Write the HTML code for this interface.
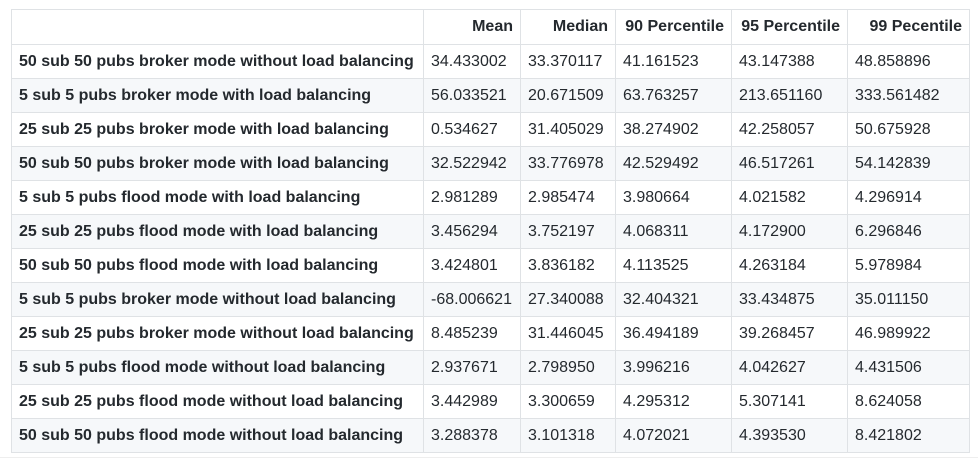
<!DOCTYPE html>
<html><head><meta charset="utf-8"><style>
body{margin:0;width:978px;height:465px;background:#fff;font-family:"Liberation Sans",Arial,sans-serif;color:#24292e;overflow:hidden;position:relative}
table{position:absolute;left:11px;top:9px;border-collapse:collapse;font-size:16px;table-layout:fixed;width:958px}
td,th{border:1px solid #dfe2e5;height:34px;padding:0 7px;white-space:nowrap;box-sizing:border-box;overflow:hidden}
th{text-align:right;font-weight:bold;height:35px}
td{text-align:left}
td:first-child{font-weight:bold}
tbody tr:nth-child(even){background:#f6f8fa}
.c0{width:412px}.c1{width:97px}.c2{width:95px}.c3{width:116px}.c4{width:116px}.c5{width:122px}
.foot{position:absolute;left:0;top:457px;width:978px;height:1px;background:#eee}
</style></head><body>
<table>
<thead><tr>
<th class="c0"></th>
<th class="c1">Mean</th>
<th class="c2">Median</th>
<th class="c3">90 Percentile</th>
<th class="c4">95 Percentile</th>
<th class="c5">99 Pecentile</th>
</tr></thead>
<tbody id="tb"></tbody>
</table>
<div class="foot"></div>
<script>
const rowLabels=["50 sub 50 pubs broker mode without load balancing","5 sub 5 pubs broker mode with load balancing","25 sub 25 pubs broker mode with load balancing","50 sub 50 pubs broker mode with load balancing","5 sub 5 pubs flood mode with load balancing","25 sub 25 pubs flood mode with load balancing","50 sub 50 pubs flood mode with load balancing","5 sub 5 pubs broker mode without load balancing","25 sub 25 pubs broker mode without load balancing","5 sub 5 pubs flood mode without load balancing","25 sub 25 pubs flood mode without load balancing","50 sub 50 pubs flood mode without load balancing"];
const mean=["34.433002","56.033521","0.534627","32.522942","2.981289","3.456294","3.424801","-68.006621","8.485239","2.937671","3.442989","3.288378"];
const median=["33.370117","20.671509","31.405029","33.776978","2.985474","3.752197","3.836182","27.340088","31.446045","2.798950","3.300659","3.101318"];
const p90=["41.161523","63.763257","38.274902","42.529492","3.980664","4.068311","4.113525","32.404321","36.494189","3.996216","4.295312","4.072021"];
const p95=["43.147388","213.651160","42.258057","46.517261","4.021582","4.172900","4.263184","33.434875","39.268457","4.042627","5.307141","4.393530"];
const p99=["48.858896","333.561482","50.675928","54.142839","4.296914","6.296846","5.978984","35.011150","46.989922","4.431506","8.624058","8.421802"];
const tb=document.getElementById('tb');
const cols=[["label",rowLabels],["mean",mean],["median",median],["p90",p90],["p95",p95],["p99",p99]];
rowLabels.forEach((_,i)=>{
  const tr=document.createElement('tr');
  
  
  cols.forEach(([n,arr])=>{
    const td=document.createElement('td');
    
    
    td.textContent=arr[i];
    tr.appendChild(td);
  });
  tb.appendChild(tr);
});
</script>
</body></html>
